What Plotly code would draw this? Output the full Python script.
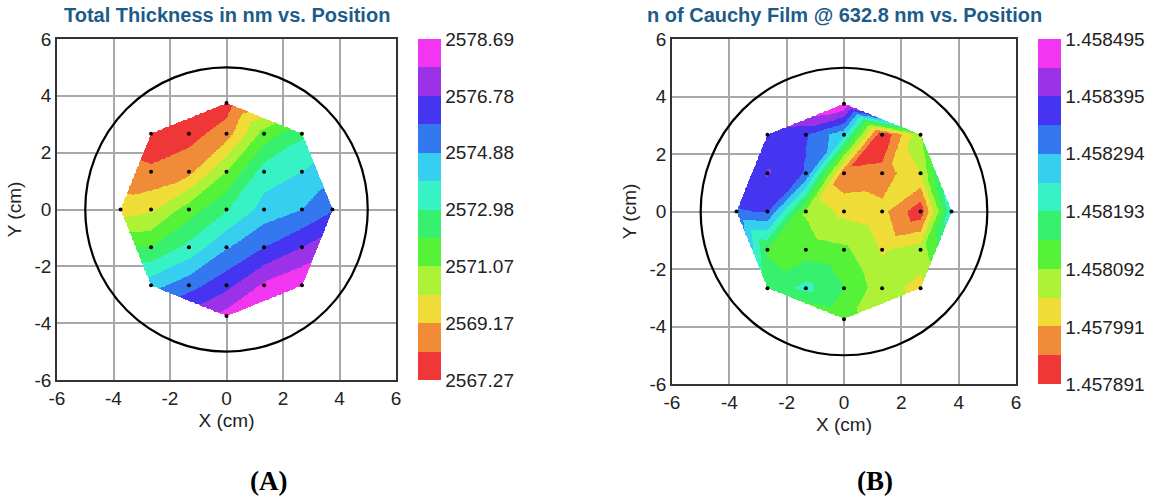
import numpy as np
import plotly.graph_objects as go

# Measurement sites on the wafer (cm): top tip, five rows of the 5x5 grid
# (row y=0 also carries the left/right tips), bottom tip.
site_x = [0.0,
          -2.67, -1.33, 0.0, 1.33, 2.67,
          -2.67, -1.33, 0.0, 1.33, 2.67,
          -3.75, -2.67, -1.33, 0.0, 1.33, 2.67, 3.75,
          -2.67, -1.33, 0.0, 1.33, 2.67,
          -2.67, -1.33, 0.0, 1.33, 2.67,
          0.0]
site_y = [3.75,
          2.67, 2.67, 2.67, 2.67, 2.67,
          1.33, 1.33, 1.33, 1.33, 1.33,
          0.0, 0.0, 0.0, 0.0, 0.0, 0.0, 0.0,
          -1.33, -1.33, -1.33, -1.33, -1.33,
          -2.67, -2.67, -2.67, -2.67, -2.67,
          -3.75]

# Total film thickness (nm) at each site
thickness_nm = [2567.75,
                2567.46, 2567.84, 2568.70, 2571.46, 2572.79,
                2568.42, 2568.89, 2571.08, 2573.46, 2573.93,
                2569.65, 2569.93, 2571.55, 2572.88, 2574.31, 2574.88, 2575.74,
                2572.03, 2573.27, 2574.79, 2575.84, 2576.79,
                2574.50, 2575.45, 2576.50, 2577.93, 2578.69,
                2578.12]

# Refractive index n of the Cauchy film at 632.8 nm at each site
n_632 = [1.458495,
         1.458364, 1.458349, 1.458258, 1.457891, 1.458087,
         1.458399, 1.458339, 1.457951, 1.457961, 1.458042,
         1.458339, 1.458349, 1.458087, 1.458027, 1.458007, 1.457906, 1.458233,
         1.458138, 1.458117, 1.458102, 1.458037, 1.458067,
         1.458163, 1.458208, 1.458143, 1.458062, 1.458027,
         1.458107]

# Colour-bar limits and labels
thk_range = [2567.27, 2578.69]
thk_ticks = ["2567.27", "2569.17", "2571.07", "2572.98", "2574.88", "2576.78", "2578.69"]
n_range = [1.457891, 1.458495]
n_ticks = ["1.457891", "1.457991", "1.458092", "1.458193", "1.458294", "1.458395", "1.458495"]

axis_ticks = [-6, -4, -2, 0, 2, 4, 6]

band_colors = ["#f03737", "#f08c37", "#f0dc37", "#aef237", "#55f237", "#37f06e",
               "#37f2c4", "#37cff0", "#3478f0", "#4535f0", "#9c32e8", "#f235f0"]

W, H = 1163, 499


def band_scale(colors):
    n = len(colors)
    scale = []
    for i, c in enumerate(colors):
        scale.append([i / n, c])
        scale.append([(i + 1) / n, c])
    return scale


def triangulate(xs, ys):
    key = {(round(x, 2), round(y, 2)): i for i, (x, y) in enumerate(zip(xs, ys))}
    g = [-2.67, -1.33, 0.0, 1.33, 2.67]
    tris = []
    for i in range(4):
        for j in range(4):
            bl = key[(g[i], g[j])]
            br = key[(g[i + 1], g[j])]
            tl = key[(g[i], g[j + 1])]
            tr = key[(g[i + 1], g[j + 1])]
            tris += [(bl, br, tr), (bl, tr, tl)]
    top, bot = key[(0.0, 3.75)], key[(0.0, -3.75)]
    left, right = key[(-3.75, 0.0)], key[(3.75, 0.0)]
    for i in range(4):
        tris.append((key[(g[i], 2.67)], key[(g[i + 1], 2.67)], top))
        tris.append((key[(g[i], -2.67)], key[(g[i + 1], -2.67)], bot))
        tris.append((key[(-2.67, g[i])], key[(-2.67, g[i + 1])], left))
        tris.append((key[(2.67, g[i])], key[(2.67, g[i + 1])], right))
    return tris


def linear_field(xs, ys, vals, gx, gy):
    X, Y = np.meshgrid(gx, gy)
    Z = np.full(X.shape, np.nan)
    for a, b, c in triangulate(xs, ys):
        x1, y1, x2, y2, x3, y3 = xs[a], ys[a], xs[b], ys[b], xs[c], ys[c]
        det = (y2 - y3) * (x1 - x3) + (x3 - x2) * (y1 - y3)
        l1 = ((y2 - y3) * (X - x3) + (x3 - x2) * (Y - y3)) / det
        l2 = ((y3 - y1) * (X - x3) + (x1 - x3) * (Y - y3)) / det
        l3 = 1 - l1 - l2
        m = (l1 >= -1e-9) & (l2 >= -1e-9) & (l3 >= -1e-9)
        Z[m] = l1[m] * vals[a] + l2[m] * vals[b] + l3[m] * vals[c]
    return Z


gx = np.linspace(-3.75, 3.75, 301)
gy = np.linspace(-3.75, 3.75, 301)

font = "Liberation Sans, Arial, sans-serif"
fig = go.Figure()

panels = [
    dict(vals=thickness_nm, rng=thk_range, ticks=thk_ticks, digits=3,
         xa="x", ya="y", xdom=(57, 396), ydom=(39, 380), cbx=418,
         title="Total Thickness in nm vs. Position"),
    dict(vals=n_632, rng=n_range, ticks=n_ticks, digits=7,
         xa="x2", ya="y2", xdom=(672, 1016), ydom=(39, 384), cbx=1038,
         title="n of Cauchy Film @ 632.8 nm vs. Position"),
]

for p in panels:
    Z = np.round(linear_field(site_x, site_y, p["vals"], gx, gy), p["digits"])
    tickvals = [float(t) for t in p["ticks"]]
    fig.add_trace(go.Heatmap(
        x=gx, y=gy, z=Z, xaxis=p["xa"], yaxis=p["ya"],
        zmin=p["rng"][0], zmax=p["rng"][1],
        colorscale=band_scale(band_colors), zsmooth=False, hoverongaps=False,
        colorbar=dict(
            x=p["cbx"] / W, xanchor="left", xpad=0,
            y=1 - p["ydom"][0] / H, yanchor="top", ypad=0,
            len=p["ydom"][1] - p["ydom"][0], lenmode="pixels",
            thickness=23, thicknessmode="pixels", outlinewidth=0,
            tickvals=tickvals, ticktext=p["ticks"], ticks="",
            tickfont=dict(family=font, size=19, color="#222"),
        ),
    ))
    fig.add_trace(go.Scatter(
        x=site_x, y=site_y, xaxis=p["xa"], yaxis=p["ya"], mode="markers",
        marker=dict(size=4, color="black"), showlegend=False, hoverinfo="skip",
    ))
    # wafer outline, 5 cm radius
    fig.add_shape(type="circle", xref=p["xa"], yref=p["ya"], x0=-5, y0=-5, x1=5, y1=5,
                  line=dict(color="black", width=2.2))
    cx = (p["xdom"][0] + p["xdom"][1]) / 2
    fig.add_annotation(text="<b>" + p["title"] + "</b>", xref="paper", yref="paper",
                       x=cx / W, y=1 - 15 / H, xanchor="center", yanchor="middle",
                       showarrow=False,
                       font=dict(family=font, size=20, color="#1d5c88"))

axis_common = dict(
    range=[-6, 6], tickvals=axis_ticks, ticktext=[str(t) for t in axis_ticks],
    showgrid=True, gridcolor="#a8a8a8", gridwidth=1.5, zeroline=False,
    showline=True, linecolor="#333", linewidth=1.5, mirror=True, ticks="",
    tickfont=dict(family=font, size=19, color="#222"),
)

fig.update_layout(
    width=W, height=H, margin=dict(l=0, r=0, t=0, b=0, autoexpand=False),
    paper_bgcolor="white", plot_bgcolor="white", showlegend=False,
    xaxis=dict(axis_common, domain=[57 / W, 396 / W], anchor="y",
               title=dict(text="X (cm)", font=dict(family=font, size=19, color="#222"), standoff=6)),
    yaxis=dict(axis_common, domain=[1 - 380 / H, 1 - 39 / H], anchor="x",
               title=dict(text="Y (cm)", font=dict(family=font, size=19, color="#222"), standoff=8)),
    xaxis2=dict(axis_common, domain=[672 / W, 1016 / W], anchor="y2",
                title=dict(text="X (cm)", font=dict(family=font, size=19, color="#222"), standoff=6)),
    yaxis2=dict(axis_common, domain=[1 - 384 / H, 1 - 39 / H], anchor="x2",
                title=dict(text="Y (cm)", font=dict(family=font, size=19, color="#222"), standoff=8)),
)

for label, xc in [("(A)", 268), ("(B)", 875)]:
    fig.add_annotation(text="<b>" + label + "</b>", xref="paper", yref="paper",
                       x=xc / W, y=1 - 481 / H, xanchor="center", yanchor="middle",
                       showarrow=False,
                       font=dict(family="Liberation Serif, Times New Roman, serif", size=27, color="black"))

fig.write_html("out.html")
